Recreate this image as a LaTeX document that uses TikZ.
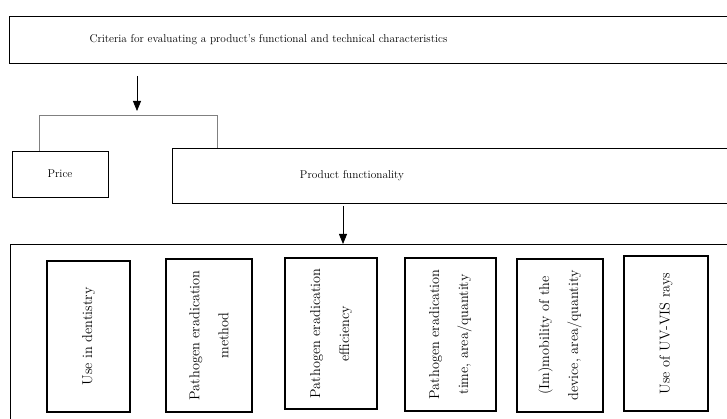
\documentclass[tikz,border=0pt]{standalone}
\usetikzlibrary{arrows.meta}
\begin{document}
\begin{tikzpicture}[x=1pt,y=-1pt,
  frame/.style={draw=black,line width=1.1pt,inner sep=0pt},
  inbox/.style={draw=black,line width=1.1pt,inner sep=0pt,rotate=90,align=center,
     font=\fontsize{14.3}{29}\selectfont},
  lbl/.style={inner sep=0pt,font=\fontsize{11.3}{13}\selectfont},
  arr/.style={line width=0.8pt,-{Triangle[length=10pt,width=8pt]}},
  brk/.style={draw=gray,line width=0.8pt}]
\useasboundingbox (0,0) rectangle (727,419);
\clip (0,0) rectangle (727,419);
\node[frame,anchor=north west,minimum width=760,minimum height=47] (top) at (9,16) {};
\node[lbl] (toptext) at (268.5,39.5) {Criteria for evaluating a product’s functional and technical characteristics};
\node[frame,anchor=north west,minimum width=96,minimum height=46] (price) at (12,151) {};
\node[lbl] (pricetext) at (60,174) {Price};
\node[frame,anchor=north west,minimum width=600,minimum height=55] (func) at (172,148) {};
\node[lbl] (functext) at (352,175.5) {Product functionality};
\node[frame,anchor=north west,minimum width=760,minimum height=200] (bottom) at (10,244) {};
% top arrow and bracket
\coordinate (a1s) at (137,76);
\coordinate (a1e) at (137,111);
\draw[arr] (a1s) -- (a1e);
\coordinate (bl) at (39,115);
\coordinate (br) at (217,115);
\draw[brk] (price.north west -| bl) -- (bl) -- (br) -- (func.north west -| br);
% second arrow
\coordinate (a2s) at (343,206);
\coordinate (a2e) at (343,244);
\draw[arr] (a2s) -- (a2e);
% inner boxes
\node[inbox,minimum width=151,minimum height=83] (b1) at (88.5,336.5) {Use in dentistry};
\node[inbox,minimum width=153,minimum height=86] (b2) at (209,335.5) {Pathogen eradication\\method};
\node[inbox,minimum width=151,minimum height=92] (b3) at (331,333.5) {Pathogen eradication\\efficiency};
\node[inbox,minimum width=153,minimum height=91] (b4) at (450.5,334.5) {Pathogen eradication\\time, area/quantity};
\node[inbox,minimum width=153,minimum height=86] (b5) at (560,335.5) {(Im)mobility of the\\device, area/quantity};
\node[inbox,minimum width=155,minimum height=84] (b6) at (666,333.5) {Use of UV-VIS rays};
\end{tikzpicture}
\end{document}
